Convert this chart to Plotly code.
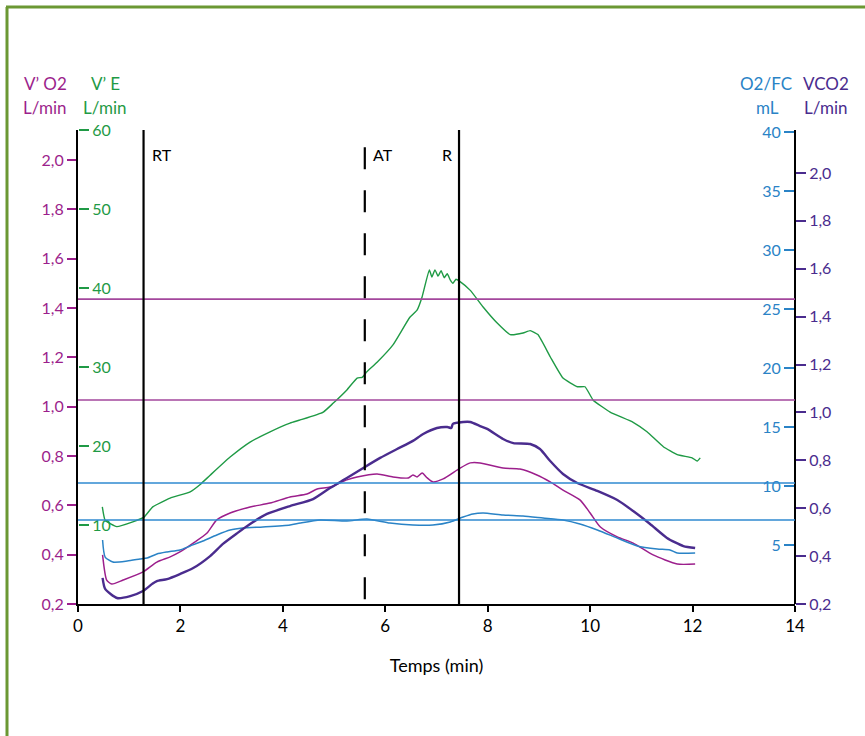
import plotly.graph_objects as go

# ---------------- data ----------------
# V'E (L/min) - green
time_ve = [0.475, 0.53, 0.756, 1.07, 1.29, 1.46, 1.80, 2.19, 2.38, 2.58, 2.97, 3.36, 3.75, 4.14,
           4.34, 4.79, 4.98, 5.25, 5.45, 5.55, 5.64, 5.84, 6.15, 6.48, 6.62, 6.72, 6.86, 6.91,
           6.97, 7.03, 7.09, 7.15, 7.21, 7.27, 7.32, 7.38, 7.46, 7.66, 7.91, 8.18, 8.44, 8.69,
           8.83, 8.98, 9.22, 9.47, 9.75, 9.90, 10.06, 10.39, 10.84, 11.11, 11.43, 11.70, 11.99,
           12.09, 12.15]
ve = [12.3, 10.6, 9.8, 10.4, 11.0, 12.3, 13.4, 14.2, 15.1, 16.3, 18.6, 20.5, 21.8, 22.9,
      23.3, 24.3, 25.4, 27.1, 28.6, 28.7, 29.4, 30.6, 32.8, 36.3, 37.2, 38.9, 42.3, 41.4,
      42.3, 41.5, 42.2, 41.3, 41.8, 41.0, 40.6, 41.1, 40.8, 39.7, 37.6, 35.6, 34.1, 34.3,
      34.6, 34.1, 31.3, 28.6, 27.5, 27.5, 25.8, 24.3, 23.0, 21.8, 19.9, 18.9, 18.5,
      18.1, 18.5]

# V'O2 (L/min) - magenta
time_vo2 = [0.48, 0.56, 0.66, 0.88, 1.27, 1.54, 1.80, 1.99, 2.25, 2.52, 2.71, 2.97, 3.36, 3.75,
            4.14, 4.47, 4.67, 4.92, 5.25, 5.45, 5.84, 6.15, 6.45, 6.54, 6.62, 6.72, 6.82, 6.93,
            7.13, 7.46, 7.66, 7.85, 8.30, 8.63, 8.96, 9.22, 9.47, 9.80, 10.0, 10.20, 10.53,
            10.84, 11.23, 11.70, 12.05]
vo2 = [0.399, 0.297, 0.281, 0.297, 0.330, 0.370, 0.391, 0.411, 0.447, 0.488, 0.541, 0.569,
       0.593, 0.609, 0.634, 0.646, 0.666, 0.674, 0.703, 0.715, 0.727, 0.715, 0.711, 0.723,
       0.715, 0.731, 0.711, 0.695, 0.707, 0.751, 0.772, 0.772, 0.751, 0.747, 0.723, 0.695,
       0.662, 0.622, 0.569, 0.512, 0.472, 0.447, 0.399, 0.362, 0.362]

# VCO2 (L/min) - dark purple
time_vco2 = [0.48, 0.53, 0.76, 1.02, 1.27, 1.45, 1.54, 1.74, 1.99, 2.25, 2.58, 2.83, 3.11, 3.36,
             3.69, 4.14, 4.59, 4.92, 5.25, 5.57, 5.90, 6.23, 6.54, 6.74, 7.01, 7.21, 7.29, 7.32,
             7.52, 7.66, 7.85, 7.99, 8.30, 8.50, 8.83, 9.02, 9.22, 9.47, 9.75, 10.14, 10.53,
             10.84, 11.17, 11.50, 11.82, 12.05]
vco2 = [0.309, 0.263, 0.225, 0.233, 0.254, 0.284, 0.296, 0.304, 0.325, 0.350, 0.400, 0.451,
        0.496, 0.534, 0.576, 0.609, 0.638, 0.684, 0.726, 0.768, 0.810, 0.847, 0.881, 0.910,
        0.935, 0.939, 0.935, 0.952, 0.960, 0.960, 0.943, 0.931, 0.889, 0.872, 0.868, 0.847,
        0.797, 0.743, 0.705, 0.672, 0.634, 0.588, 0.534, 0.476, 0.442, 0.434]

# O2/FC (mL) - blue
time_o2fc = [0.48, 0.53, 0.68, 0.96, 1.21, 1.35, 1.54, 1.74, 1.99, 2.19, 2.44, 2.71, 2.97, 3.22,
             3.61, 4.14, 4.34, 4.73, 5.25, 5.64, 6.09, 6.54, 6.93, 7.27, 7.52, 7.71, 7.91, 8.30,
             8.69, 9.08, 9.47, 9.80, 10.14, 10.53, 10.92, 11.31, 11.56, 11.70, 12.05]
o2fc = [5.42, 3.98, 3.56, 3.64, 3.81, 3.90, 4.24, 4.41, 4.58, 4.92, 5.34, 5.85, 6.27, 6.44,
        6.53, 6.69, 6.86, 7.12, 7.03, 7.20, 6.86, 6.69, 6.69, 6.95, 7.37, 7.63, 7.71, 7.54,
        7.46, 7.29, 7.12, 6.78, 6.27, 5.59, 4.92, 4.66, 4.58, 4.32, 4.32]

# thresholds (min) and labels
threshold_times = [1.28, 5.6, 7.44]
threshold_labels = ["RT", "AT", "R"]

# horizontal reference levels
vo2_refs = [1.436, 1.027]
o2fc_refs = [10.25, 7.12]

# ticks
x_ticks = [0, 2, 4, 6, 8, 10, 12, 14]
vo2_ticks = [0.2, 0.4, 0.6, 0.8, 1.0, 1.2, 1.4, 1.6, 1.8, 2.0]
ve_ticks = [10, 20, 30, 40, 50, 60]
o2fc_ticks = [5, 10, 15, 20, 25, 30, 35, 40]
vco2_ticks = [0.2, 0.4, 0.6, 0.8, 1.0, 1.2, 1.4, 1.6, 1.8, 2.0]

# ---------------- style ----------------
W, H = 865, 736
ML, MR, MT, MB = 78, 70, 130, 132
PW, PH = W - ML - MR, H - MT - MB

GREEN = "#1f9a45"
MAGENTA = "#9c1f8c"
BLUE = "#2a83c6"
PURPLE = "#4a2c8e"
REF_MAG = "#a3479c"
REF_BLUE = "#2f8ad0"
FRAME = "#6b9833"
FONT = "Lato"
TICK_SIZE = 16


def px_x(x):
    return (x - ML) / PW


def px_y(y):
    return (H - MB - y) / PH


fig = go.Figure()

fig.add_trace(go.Scatter(x=time_vo2, y=vo2, yaxis="y", mode="lines", hoverinfo="skip",
                         line=dict(color=MAGENTA, width=1.5, shape="spline", smoothing=0.6)))
fig.add_trace(go.Scatter(x=time_o2fc, y=o2fc, yaxis="y3", mode="lines", hoverinfo="skip",
                         line=dict(color=BLUE, width=1.5, shape="spline", smoothing=0.6)))
fig.add_trace(go.Scatter(x=time_vco2, y=vco2, yaxis="y4", mode="lines", hoverinfo="skip",
                         line=dict(color=PURPLE, width=2.4, shape="spline", smoothing=0.6)))
fig.add_trace(go.Scatter(x=time_ve, y=ve, yaxis="y2", mode="lines", hoverinfo="skip",
                         line=dict(color=GREEN, width=1.4, shape="spline", smoothing=0.4)))

shapes = []
for v in vo2_refs:
    shapes.append(dict(type="line", xref="paper", yref="y", x0=0, x1=1, y0=v, y1=v,
                       line=dict(color=REF_MAG, width=1.6)))
for v in o2fc_refs:
    shapes.append(dict(type="line", xref="paper", yref="y3", x0=0, x1=1, y0=v, y1=v,
                       line=dict(color=REF_BLUE, width=1.6)))
for t, lab in zip(threshold_times, threshold_labels):
    dash = "22px,21px" if lab == "AT" else "solid"
    shapes.append(dict(type="line", xref="x", yref="paper", x0=t, x1=t,
                       y0=0 if lab != "AT" else 0.01, y1=1,
                       line=dict(color="black", width=2.2, dash=dash)))

# green frame
shapes.append(dict(type="line", xref="paper", yref="paper",
                   x0=px_x(7), x1=px_x(7), y0=px_y(H + 5), y1=px_y(7),
                   line=dict(color=FRAME, width=3)))
shapes.append(dict(type="line", xref="paper", yref="paper",
                   x0=px_x(6), x1=px_x(W + 5), y0=px_y(7), y1=px_y(7),
                   line=dict(color=FRAME, width=3)))

annotations = []
for t, lab in zip(threshold_times, threshold_labels):
    if lab == "R":
        annotations.append(dict(x=t, y=px_y(143), xref="x", yref="paper", text=lab,
                                showarrow=False, xanchor="right", xshift=-5,
                                font=dict(family=FONT, size=16, color="black")))
    else:
        annotations.append(dict(x=t, y=px_y(143), xref="x", yref="paper", text=lab,
                                showarrow=False, xanchor="left", xshift=6,
                                font=dict(family=FONT, size=16, color="black")))

headers = [
    ("V’ O2", 45, 83, MAGENTA), ("L/min", 45, 107, MAGENTA),
    ("V’ E", 105, 83, GREEN), ("L/min", 105, 107, GREEN),
    ("O2/FC", 766, 83, BLUE), ("mL", 767, 107, BLUE),
    ("VCO2", 826, 83, PURPLE), ("L/min", 826, 107, PURPLE),
]
for txt, hx, hy, col in headers:
    annotations.append(dict(x=px_x(hx), y=px_y(hy), xref="paper", yref="paper", text=txt,
                            showarrow=False, xanchor="center", yanchor="middle",
                            font=dict(family=FONT, size=17, color=col)))

fig.update_layout(
    width=W, height=H,
    margin=dict(l=ML, r=MR, t=MT, b=MB),
    paper_bgcolor="white", plot_bgcolor="white",
    showlegend=False,
    hovermode=False,
    separators=", ",
    font=dict(family=FONT, size=TICK_SIZE, color="black"),
    xaxis=dict(range=[0, 14], tickvals=x_ticks, showgrid=False, zeroline=False,
               showline=True, linecolor="black", linewidth=2,
               ticks="outside", ticklen=6, tickwidth=2, tickcolor="black",
               tickfont=dict(family=FONT, size=17, color="black"),
               title=dict(text="Temps (min)", standoff=24,
                          font=dict(family=FONT, size=18, color="black"))),
    yaxis=dict(range=[0.2, 0.2 + PH / 246.7], tickvals=vo2_ticks, tickformat=".1f",
               side="left", anchor="x", showgrid=False, zeroline=False,
               showline=True, linecolor="black", linewidth=2,
               ticks="outside", ticklen=9, tickwidth=2, tickcolor=MAGENTA,
               tickfont=dict(family=FONT, size=TICK_SIZE, color=MAGENTA)),
    yaxis2=dict(range=[0, PH / 7.9], tickvals=ve_ticks, overlaying="y",
                side="right", anchor="free", position=0, showgrid=False, zeroline=False,
                showline=False, ticks="outside", ticklen=10, tickwidth=2, tickcolor=GREEN,
                tickfont=dict(family=FONT, size=TICK_SIZE, color=GREEN)),
    yaxis3=dict(range=[0, PH / 11.8], tickvals=o2fc_ticks, overlaying="y",
                side="left", anchor="free", position=1, showgrid=False, zeroline=False,
                showline=True, linecolor="black", linewidth=2,
                ticks="outside", ticklen=10, tickwidth=2, tickcolor=BLUE,
                tickfont=dict(family=FONT, size=TICK_SIZE, color=BLUE)),
    yaxis4=dict(range=[0.2, 0.2 + PH / 239.5], tickvals=vco2_ticks, tickformat=".1f",
                overlaying="y", side="right", anchor="x", showgrid=False, zeroline=False,
                showline=False, ticks="outside", ticklen=10, tickwidth=2, tickcolor=PURPLE,
                tickfont=dict(family=FONT, size=TICK_SIZE, color=PURPLE)),
    shapes=shapes,
    annotations=annotations,
)

fig.write_html("out.html", config={"displayModeBar": False},
               post_script="document.body.style.margin='0';")
